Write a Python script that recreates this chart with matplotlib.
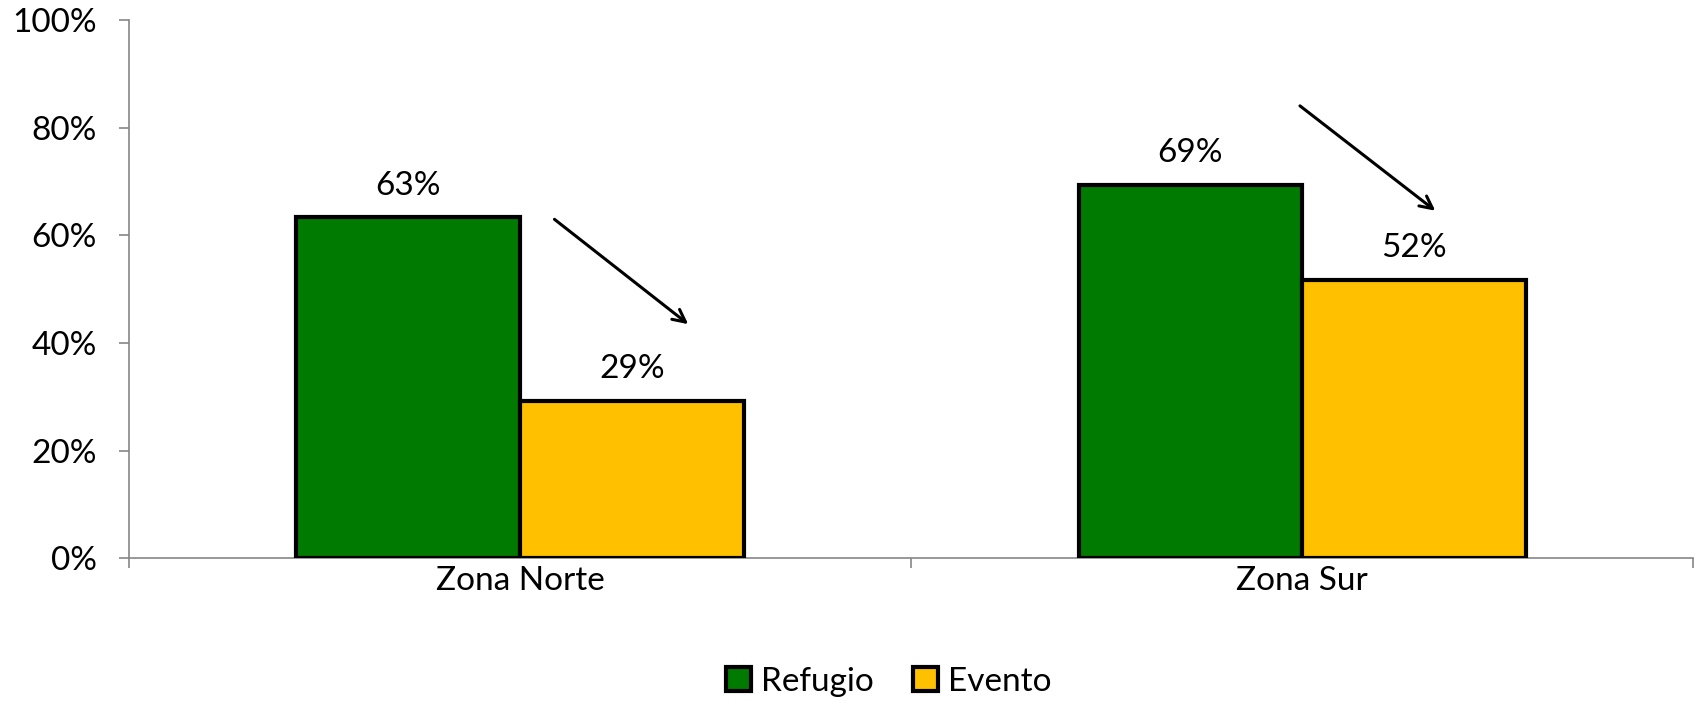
import matplotlib
matplotlib.use("Agg")
import matplotlib.pyplot as plt
from matplotlib.patches import Patch
import numpy as np

categories = ["Zona Norte", "Zona Sur"]
series_names = ["Refugio", "Evento"]
refugio = [0.634, 0.694]
evento = [0.293, 0.517]
value_labels_refugio = ["63%", "69%"]
value_labels_evento = ["29%", "52%"]
yticks = [0, 0.2, 0.4, 0.6, 0.8, 1.0]
ytick_labels = ["0%", "20%", "40%", "60%", "80%", "100%"]
# arrows (start, end) in data coordinates
arrows = [((0.044, 0.630), (0.215, 0.435)),
          ((0.997, 0.841), (1.170, 0.646))]

colors = ["#007A00", "#FFC000"]

plt.rcParams['font.family'] = ['Lato', 'DejaVu Sans']
FS = 24

fig = plt.figure(figsize=(16.96, 7.02), dpi=100)
ax = fig.add_axes([0.076, 0.205, 0.9225, 0.766])

x = np.arange(len(categories))
bw = 0.286
b1 = ax.bar(x - bw / 2, refugio, bw, color=colors[0], edgecolor="black", linewidth=3, zorder=3)
b2 = ax.bar(x + bw / 2, evento, bw, color=colors[1], edgecolor="black", linewidth=3, zorder=3)

for bars, labels in ((b1, value_labels_refugio), (b2, value_labels_evento)):
    for rect, lab in zip(bars, labels):
        ax.annotate(lab, (rect.get_x() + rect.get_width() / 2, rect.get_height()),
                    xytext=(0, 12), textcoords="offset points",
                    ha="center", va="bottom", fontsize=FS, color="black")

for (sx, sy), (ex, ey) in arrows:
    ax.annotate("", xy=(ex, ey), xytext=(sx, sy),
                arrowprops=dict(arrowstyle="->,head_length=0.9,head_width=0.45",
                                lw=2.2, color="black", shrinkA=0, shrinkB=0))

ax.set_xlim(-0.5, len(categories) - 0.5)
ax.set_ylim(0, 1.0)
ax.set_yticks(yticks)
ax.set_yticklabels(ytick_labels, fontsize=FS)
ax.set_xticks(x)
ax.set_xticklabels(categories, fontsize=FS)
ax.set_xticks(np.arange(-0.5, len(categories), 1.0), minor=True)
ax.tick_params(axis="x", which="major", length=0, pad=6)
ax.tick_params(axis="x", which="minor", length=7, width=1.2, color="#868686", direction="out")
ax.tick_params(axis="y", length=7, width=1.2, color="#868686", direction="out", pad=16)

for s in ("top", "right"):
    ax.spines[s].set_visible(False)
for s in ("left", "bottom"):
    ax.spines[s].set_color("#868686")
    ax.spines[s].set_linewidth(1.2)

handles = [Patch(facecolor=c, edgecolor="black", linewidth=3) for c in colors]
fig.legend(handles, series_names, loc="center", bbox_to_anchor=(0.524, 0.029), ncol=2,
           frameon=False, fontsize=FS, handlelength=0.75, handleheight=0.75,
           handletextpad=0.3, columnspacing=1.2)

fig.savefig("out.png", dpi=100)
